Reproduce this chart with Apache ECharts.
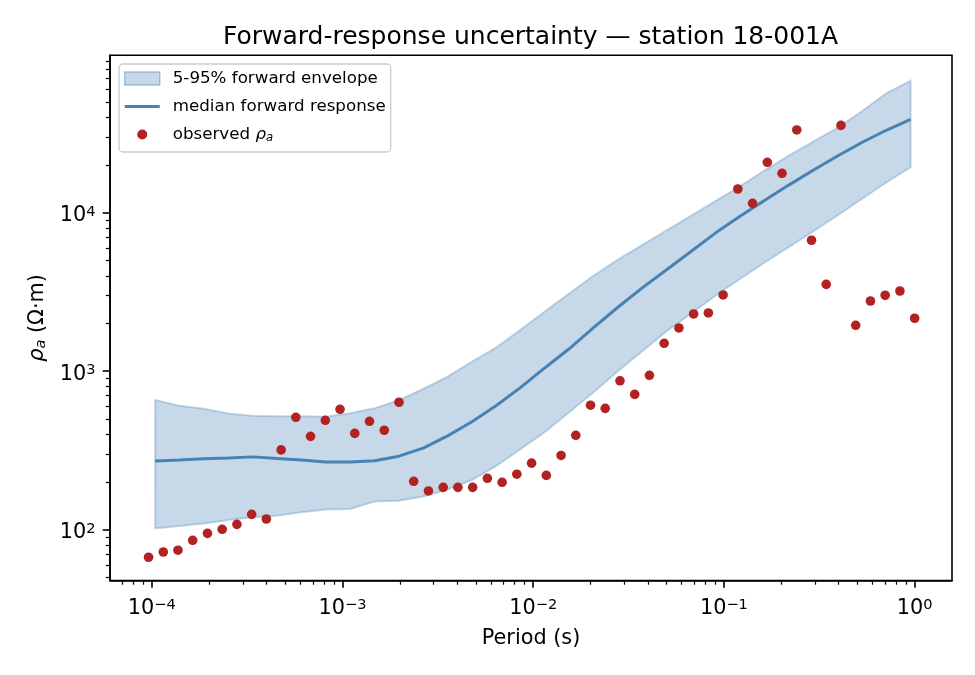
<!DOCTYPE html>
<html>
<head>
<meta charset="utf-8">
<script src="https://cdn.jsdelivr.net/npm/echarts@6/dist/echarts.min.js"></script>
<style>
html,body{margin:0;padding:0;background:#fff;}
#chart{width:975px;height:675px;}
</style>
</head>
<body>
<div id="chart"></div>
<script>
// ---- data ----
const obsPeriod = [9.62e-5, 1.149e-4, 1.372e-4, 1.639e-4, 1.959e-4, 2.340e-4, 2.796e-4, 3.340e-4, 3.990e-4, 4.767e-4,
  5.694e-4, 6.803e-4, 8.128e-4, 9.710e-4, 1.160e-3, 1.386e-3, 1.656e-3, 1.978e-3, 2.363e-3, 2.823e-3,
  3.373e-3, 4.029e-3, 4.814e-3, 5.751e-3, 6.871e-3, 8.208e-3, 9.806e-3, 1.172e-2, 1.400e-2, 1.672e-2,
  1.998e-2, 2.386e-2, 2.851e-2, 3.406e-2, 4.069e-2, 4.861e-2, 5.808e-2, 6.938e-2, 8.289e-2, 9.902e-2,
  0.1183, 0.1413, 0.1689, 0.2017, 0.2410, 0.2879, 0.3439, 0.4109, 0.4909, 0.5864,
  0.7006, 0.8371, 1.0];
const obsRho = [67.0, 72.3, 74.2, 85.7, 94.8, 100.6, 108.1, 125.0, 116.8, 318.6,
  512, 388, 490, 575, 405, 483, 424, 637, 202, 175.5,
  185, 185, 185, 211, 199, 224, 263, 220, 294, 394,
  610, 583, 870, 714, 942, 1500, 1874, 2296, 2330, 3028,
  14110, 11460, 20800, 17730, 33270, 6700, 3530, 35540, 1948, 2773,
  3013, 3206, 2158];

const modelPeriod = [1.042e-4, 1.398e-4, 1.877e-4, 2.519e-4, 3.381e-4, 4.537e-4, 6.089e-4, 8.173e-4,
  1.097e-3, 1.472e-3, 1.976e-3, 2.652e-3, 3.558e-3, 4.775e-3, 6.409e-3, 8.602e-3,
  1.154e-2, 1.549e-2, 2.079e-2, 2.790e-2, 3.745e-2, 5.026e-2, 6.745e-2, 9.052e-2,
  0.1215, 0.1630, 0.2188, 0.2936, 0.3940, 0.5288, 0.7097, 0.9526];
const envLower = [102.0, 105.5, 109.4, 115.1, 119.7, 122.6, 128.8, 134.1, 135.1, 150.6, 152.2, 162.0,
  179.3, 205.9, 252.3, 322.9, 413.4, 552.8, 739.2, 1003, 1341, 1793, 2312, 3003,
  3817, 4831, 6067, 7611, 9600, 12200, 15500, 19340];
const envUpper = [658, 605, 579, 540, 524, 520, 519, 516, 543, 583, 656, 774,
  925, 1148, 1413, 1828, 2388, 3105, 4018, 5070, 6266, 7762, 9572, 11860,
  14660, 18450, 22910, 28050, 34280, 43650, 56620, 68080];
const medianRho = [271, 275, 280, 283, 288, 281, 275, 267, 267, 272, 291, 327,
  391, 480, 607, 791, 1052, 1390, 1888, 2541, 3365, 4385, 5715, 7464,
  9484, 11940, 14930, 18540, 22800, 27730, 33110, 38820];

const xMajorTicks = [1e-4, 1e-3, 1e-2, 1e-1, 1];
const yMajorTicks = [1e2, 1e3, 1e4];
const X_MIN = 6.04e-5, X_MAX = 1.57;
const Y_MIN = 47.8, Y_MAX = 98400;

const legendLabels = {
  env: '5-95% forward envelope',
  med: 'median forward response',
  obs: 'observed {i|ρ}{s|a}'
};

function minorTicks(lo, hi, e0, e1) {
  const out = [];
  for (let e = e0; e <= e1; e++) {
    for (let m = 2; m <= 9; m++) {
      const v = m * Math.pow(10, e);
      if (v >= lo && v <= hi) out.push(v);
    }
  }
  return out;
}
const xMinorTicks = minorTicks(X_MIN, X_MAX, -5, 0);
const yMinorTicks = minorTicks(Y_MIN, Y_MAX, 1, 4);

const FONT = 'DejaVu Sans';
function powLabel(v) {
  const e = Math.round(Math.log10(v));
  const s = e < 0 ? '\u2212' + (-e) : String(e);
  return '{b|10}{s|' + s + '}';
}
const richTick = {
  b: {fontFamily: FONT, fontSize: 20.8, lineHeight: 22, color: '#000'},
  s: {fontFamily: FONT, fontSize: 14.6, lineHeight: 10, verticalAlign: 'top', color: '#000'}
};

const chart = echarts.init(document.getElementById('chart'), null, {renderer: 'canvas'});

const bandData = modelPeriod.map((p, i) => [p, envLower[i], envUpper[i]]);

const option = {
  animation: false,
  backgroundColor: '#fff',
  title: {
    text: 'Forward-response uncertainty \u2014 station 18-001A',
    left: 525.5, top: 19.5, textAlign: 'center',
    textStyle: {fontFamily: FONT, fontSize: 25, fontWeight: 'normal', color: '#000', lineHeight: 25}
  },
  grid: {
    left: 110, right: 23, top: 55.3, bottom: 94.5,
    show: true, borderColor: '#000', borderWidth: 1.6, backgroundColor: 'rgba(0,0,0,0)'
  },
  legend: {
    orient: 'vertical', left: 119, top: 64,
    padding: [5, 5, 8, 5],
    itemWidth: 35, itemHeight: 13, itemGap: 9,
    backgroundColor: 'rgba(255,255,255,0.8)',
    borderColor: '#cccccc', borderWidth: 1.3, borderRadius: 4,
    selectedMode: false,
    textStyle: {
      fontFamily: FONT, fontSize: 16.7, color: '#000', lineHeight: 19, padding: [0, 0, 0, 8],
      rich: {
        i: {fontFamily: FONT, fontSize: 16.7, fontStyle: 'italic', color: '#000', lineHeight: 19},
        s: {fontFamily: FONT, fontSize: 11.7, fontStyle: 'italic', color: '#000', lineHeight: 12, verticalAlign: 'bottom'}
      }
    },
    formatter: function (name) { return legendLabels[name]; },
    data: [
      {name: 'env', icon: 'rect', itemStyle: {color: 'rgba(70,130,180,0.3)', borderColor: 'rgba(70,130,180,0.45)', borderWidth: 1.5}},
      {name: 'med', icon: 'path://M0,0M36,13M0,5L36,5L36,8L0,8Z', itemStyle: {color: '#4682b4', borderWidth: 0}, lineStyle: {width: 0}},
      {name: 'obs', icon: 'path://M0,0M13,13M11.5,6.5A5,5,0,1,1,1.5,6.5A5,5,0,1,1,11.5,6.5Z', itemStyle: {color: '#b22222'}}
    ]
  },
  xAxis: [
    {
      type: 'log', min: X_MIN, max: X_MAX, position: 'bottom',
      name: 'Period (s)', nameLocation: 'middle', nameGap: 47,
      nameTextStyle: {fontFamily: FONT, fontSize: 20.8, color: '#000', lineHeight: 22},
      axisLine: {show: true, lineStyle: {color: '#000', width: 1.6}},
      axisTick: {show: true, customValues: xMajorTicks, length: 7.3, lineStyle: {color: '#000', width: 1.6}},
      axisLabel: {show: true, customValues: xMajorTicks, margin: 17, formatter: powLabel, rich: richTick},
      splitLine: {show: false}, minorTick: {show: false}
    },
    {
      type: 'log', min: X_MIN, max: X_MAX, position: 'bottom',
      axisLine: {show: false},
      axisTick: {show: true, customValues: xMinorTicks, length: 4.2, lineStyle: {color: '#000', width: 1.2}},
      axisLabel: {show: false}, splitLine: {show: false}
    }
  ],
  yAxis: [
    {
      type: 'log', min: Y_MIN, max: Y_MAX, position: 'left',
      name: '{i|ρ}{s|a}{n| (Ω·m)}', nameLocation: 'middle', nameGap: 61,
      nameTextStyle: {
        fontFamily: FONT, fontSize: 20.8, color: '#000', lineHeight: 22,
        rich: {
          i: {fontFamily: FONT, fontSize: 20.8, fontStyle: 'italic', color: '#000', lineHeight: 22},
          s: {fontFamily: FONT, fontSize: 14.6, fontStyle: 'italic', color: '#000', lineHeight: 14, verticalAlign: 'bottom'},
          n: {fontFamily: FONT, fontSize: 20.8, color: '#000', lineHeight: 22}
        }
      },
      axisLine: {show: true, lineStyle: {color: '#000', width: 1.6}},
      axisTick: {show: true, customValues: yMajorTicks, length: 7.3, lineStyle: {color: '#000', width: 1.6}},
      axisLabel: {show: true, customValues: yMajorTicks, margin: 14.5, padding: [6, 0, 0, 0], formatter: powLabel, rich: richTick},
      splitLine: {show: false}, minorTick: {show: false}
    },
    {
      type: 'log', min: Y_MIN, max: Y_MAX, position: 'left',
      axisLine: {show: false},
      axisTick: {show: true, customValues: yMinorTicks, length: 4.2, lineStyle: {color: '#000', width: 1.2}},
      axisLabel: {show: false}, splitLine: {show: false}
    }
  ],
  series: [
    {
      name: 'env', type: 'custom', xAxisIndex: 0, yAxisIndex: 0, z: 1, silent: true,
      itemStyle: {color: 'rgba(70,130,180,0.3)'},
      encode: {x: 0, y: [1, 2]},
      data: bandData,
      renderItem: function (params, api) {
        if (params.dataIndex !== 0) return null;
        const pts = [];
        for (let i = 0; i < modelPeriod.length; i++) pts.push(api.coord([modelPeriod[i], envUpper[i]]));
        for (let i = modelPeriod.length - 1; i >= 0; i--) pts.push(api.coord([modelPeriod[i], envLower[i]]));
        return {
          type: 'polygon',
          shape: {points: pts},
          style: {fill: 'rgba(70,130,180,0.3)', stroke: 'rgba(70,130,180,0.3)', lineWidth: 2}
        };
      }
    },
    {
      name: 'med', type: 'line', xAxisIndex: 0, yAxisIndex: 0, z: 2,
      symbol: 'none', silent: true,
      lineStyle: {color: '#4682b4', width: 3},
      itemStyle: {color: '#4682b4'},
      data: modelPeriod.map((p, i) => [p, medianRho[i]])
    },
    {
      name: 'obs', type: 'scatter', xAxisIndex: 0, yAxisIndex: 0, z: 3,
      symbol: 'circle', symbolSize: 9.6, silent: true,
      itemStyle: {color: '#b22222', opacity: 1},
      data: obsPeriod.map((p, i) => [p, obsRho[i]])
    }
  ]
};
chart.setOption(option);
</script>
</body>
</html>
